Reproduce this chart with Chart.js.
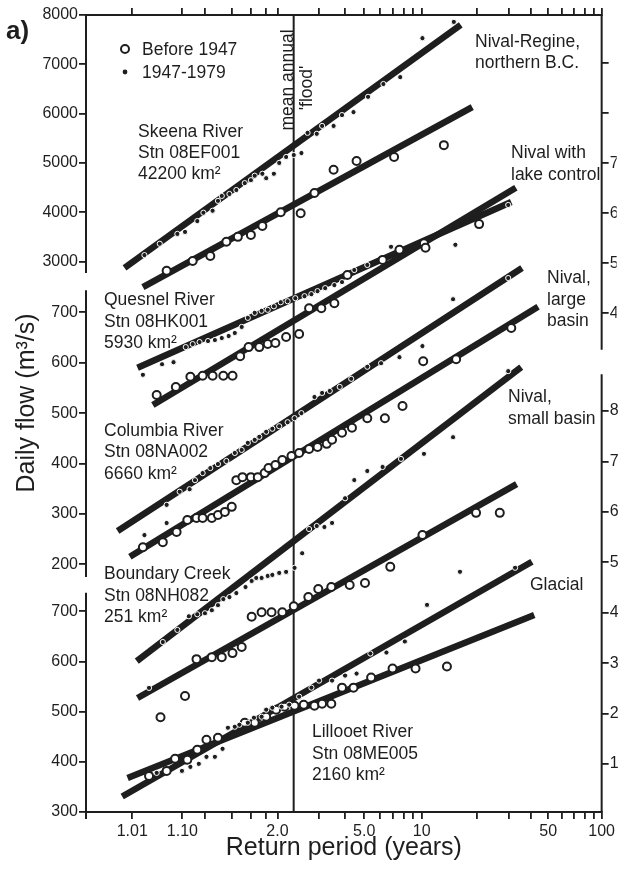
<!DOCTYPE html>
<html>
<head>
<meta charset="utf-8">
<style>
  html, body { margin: 0; padding: 0; background: #fff; }
</style>
<script src="https://cdn.jsdelivr.net/npm/chart.js@4/dist/chart.umd.min.js"></script>
</head>
<body>
<canvas id="floodChart" width="618" height="869"></canvas>
<script>
// x values are the Gumbel reduced variate, y values are daily flow (m3/s)
// "early" = before 1947 (open circles), "recent" = 1947-1979 (dots)

// Skeena River, Stn 08EF001
const skeenaEarly = [[-1.08,2810],[-0.74,3010],[-0.51,3110],[-0.30,3400],[-0.15,3500],[0.02,3540],[0.17,3720],[0.41,4000],[0.67,3980],[0.85,4390],[1.10,4860],[1.40,5040],[1.89,5120],[2.54,5360]];
const skeenaRecent = [[-1.37,3130],[-1.17,3360],[-0.94,3560],[-0.84,3600],[-0.68,3820],[-0.60,3990],[-0.48,4030],[-0.41,4230],[-0.36,4330],[-0.26,4370],[-0.17,4450],[-0.06,4590],[0.02,4650],[0.07,4740],[0.17,4780],[0.22,4690],[0.32,4780],[0.39,5000],[0.48,5120],[0.58,5160],[0.68,5200],[0.76,5610],[0.88,5590],[0.95,5750],[1.10,5750],[1.21,5970],[1.36,6030],[1.55,6340],[1.75,6600],[1.97,6740],[2.26,7530],[2.67,7860]];
const skeenaEarlyFit = [[-1.39,2480],[2.91,6130]];
const skeenaRecentFit = [[-1.63,2870],[2.76,7800]];

// Quesnel River, Stn 08HK001
const quesnelEarly = [[-1.21,536],[-0.96,552],[-0.77,572],[-0.61,574],[-0.48,574],[-0.34,574],[-0.22,574],[-0.12,613],[-0.01,631],[0.13,631],[0.24,637],[0.34,639],[0.48,651],[0.65,657],[0.78,708],[0.94,708],[1.11,718],[1.28,774],[1.74,804],[1.96,824],[2.28,837],[2.30,828],[3.00,875]];
const quesnelRecent = [[-1.39,576],[-1.14,597],[-0.99,601],[-0.83,631],[-0.74,637],[-0.65,641],[-0.54,643],[-0.45,645],[-0.36,649],[-0.27,653],[-0.19,659],[-0.10,671],[-0.02,689],[0.07,699],[0.16,703],[0.24,705],[0.32,712],[0.41,720],[0.50,722],[0.60,728],[0.72,732],[0.81,736],[0.89,742],[0.99,748],[1.11,754],[1.21,760],[1.37,784],[1.54,794],[1.85,830],[2.69,834],[3.38,913]];
const quesnelEarlyFit = [[-1.26,516],[3.48,947]];
const quesnelRecentFit = [[-1.46,590],[3.42,919]];

// Columbia River, Stn 08NA002
const columbiaEarly = [[-1.39,234],[-1.13,244],[-0.95,264],[-0.81,288],[-0.69,292],[-0.61,292],[-0.49,292],[-0.41,298],[-0.32,304],[-0.23,314],[-0.17,367],[-0.09,373],[0.02,373],[0.11,373],[0.20,381],[0.25,391],[0.34,397],[0.43,407],[0.55,415],[0.65,421],[0.78,429],[0.89,433],[1.01,439],[1.08,447],[1.21,461],[1.34,471],[1.54,490],[1.77,490],[2.00,514],[2.27,603],[2.70,607],[3.42,669]];
const columbiaRecent = [[-1.37,258],[-1.08,318],[-1.08,282],[-0.91,344],[-0.78,349],[-0.71,367],[-0.61,381],[-0.51,391],[-0.41,399],[-0.30,405],[-0.19,421],[-0.10,427],[-0.02,441],[0.07,447],[0.13,453],[0.22,463],[0.30,469],[0.39,474],[0.50,482],[0.59,490],[0.68,500],[0.85,532],[0.95,540],[1.05,544],[1.18,552],[1.33,568],[1.54,592],[1.72,599],[1.96,611],[2.26,633],[2.66,726],[3.38,768]];
const columbiaEarlyFit = [[-1.56,215],[3.77,711]];
const columbiaRecentFit = [[-1.72,266],[3.56,788]];

// Boundary Creek, Stn 08NH082
const boundaryEarly = [[-1.16,19.3],[-0.84,23.5],[-0.69,30.8],[-0.49,31.2],[-0.36,31.2],[-0.22,32.0],[-0.10,33.2],[0.03,39.2],[0.16,40.1],[0.29,40.1],[0.43,40.1],[0.58,41.3],[0.77,43.1],[0.90,44.7],[1.07,45.1],[1.31,45.5],[1.51,45.9],[1.84,49.1],[2.26,55.4],[2.96,59.8],[3.27,59.8]];
const boundaryRecent = [[-1.31,25.1],[-1.13,34.2],[-0.94,36.6],[-0.79,39.3],[-0.68,39.7],[-0.58,39.9],[-0.49,40.5],[-0.41,41.5],[-0.34,42.7],[-0.26,43.1],[-0.17,43.9],[-0.05,45.1],[0.03,46.3],[0.09,46.9],[0.16,46.9],[0.24,47.3],[0.30,47.5],[0.39,47.9],[0.48,48.1],[0.59,48.9],[0.69,51.8],[0.78,56.6],[0.88,57.2],[0.98,57.0],[1.08,57.8],[1.25,62.7],[1.37,66.3],[1.54,68.1],[1.74,68.9],[1.98,70.5],[2.28,71.5],[2.66,74.8],[3.38,87.9]];
const boundaryEarlyFit = [[-1.46,23.1],[3.49,65.5]];
const boundaryRecentFit = [[-1.47,30.4],[3.55,88.7]];

// Lillooet River, Stn 08ME005
const lillooetEarly = [[-1.31,372],[-1.08,382],[-0.97,406],[-0.81,404],[-0.68,424],[-0.56,444],[-0.41,448],[-0.06,478],[0.07,478],[0.22,490],[0.35,504],[0.46,510],[0.59,512],[0.71,514],[0.85,512],[0.95,516],[1.07,516],[1.21,548],[1.36,548],[1.59,568],[1.87,586],[2.17,586],[2.58,590]];
const lillooetRecent = [[-1.21,378],[-0.88,382],[-0.77,390],[-0.66,396],[-0.56,410],[-0.45,410],[-0.35,426],[-0.28,468],[-0.19,470],[-0.13,474],[-0.02,478],[0.06,488],[0.16,490],[0.22,504],[0.30,508],[0.42,510],[0.52,514],[0.65,530],[0.81,548],[0.91,562],[1.08,562],[1.25,572],[1.40,576],[1.58,616],[1.79,618],[2.03,640],[2.32,713],[2.75,779],[3.47,787]];
const lillooetEarlyFit = [[-1.59,368],[3.72,693]];
const lillooetRecentFit = [[-1.66,331],[3.69,799]];

// return period ticks (years) and the ones that get a label
const periodTicks = [1.01, 1.1, 1.2, 1.4, 1.6, 1.8, 2, 3, 4, 5, 6, 7, 8, 9, 10, 20, 30, 40, 50, 60, 70, 80, 90, 100];
const periodLabels = { 1.01: "1.01", 1.1: "1.10", 2: "2.0", 5: "5.0", 10: "10", 50: "50", 100: "100" };
const meanFloodPeriod = 2.33;

// flow axis ticks
const skeenaTicks = [3000, 4000, 5000, 6000, 7000, 8000];
const middleTicks = [200, 300, 400, 500, 600, 700];
const lowerTicks = [300, 400, 500, 600, 700];
const rightUpperTicks = [400, 500, 600, 700, 800, 900];
const rightLowerTicks = [10, 20, 30, 40, 50, 60, 70, 80];

const gumbel = T => -Math.log(-Math.log(1 - 1 / T));

const FONT = "'Liberation Sans', Arial, sans-serif";
const INK = "#1e1e1e";
Chart.defaults.font.family = FONT;

const rivers = [
  { axis: "yA", early: skeenaEarly, recent: skeenaRecent, earlyFit: skeenaEarlyFit, recentFit: skeenaRecentFit },
  { axis: "yB", early: quesnelEarly, recent: quesnelRecent, earlyFit: quesnelEarlyFit, recentFit: quesnelRecentFit },
  { axis: "yB", early: columbiaEarly, recent: columbiaRecent, earlyFit: columbiaEarlyFit, recentFit: columbiaRecentFit },
  { axis: "yR2", early: boundaryEarly, recent: boundaryRecent, earlyFit: boundaryEarlyFit, recentFit: boundaryRecentFit },
  { axis: "yC", early: lillooetEarly, recent: lillooetRecent, earlyFit: lillooetEarlyFit, recentFit: lillooetRecentFit },
];

const datasets = [];
rivers.forEach(r => {
  [r.earlyFit, r.recentFit].forEach(fit => {
    datasets.push({ data: fit, xAxisID: "x", yAxisID: r.axis, showLine: true, borderColor: INK,
      borderWidth: 6.5, pointRadius: 0, order: 3 });
  });
  datasets.push({ data: r.early, xAxisID: "x", yAxisID: r.axis, pointRadius: 4, pointBorderWidth: 2,
    pointBorderColor: INK, pointBackgroundColor: "#fff", order: 2 });
  datasets.push({ data: r.recent, xAxisID: "x", yAxisID: r.axis, pointRadius: 2.6, pointBorderWidth: 1,
    pointBorderColor: "#fff", pointBackgroundColor: INK, order: 1 });
});

// pieces of the broken flow axes, in axis units
const axisSegments = [
  { axis: "yA", from: 2768, to: 8000 },
  { axis: "yB", from: 175, to: 744 },
  { axis: "yC", from: 286, to: 737 },
  { axis: "yR1", from: 327, to: 997 },
  { axis: "yR2", from: 0.5, to: 87.3 },
];

const notes = [
  ["Skeena River", 138, 137], ["Stn 08EF001", 138, 158], ["42200 km\u00b2", 138, 179],
  ["Nival-Regine,", 475, 47], ["northern B.C.", 475, 68],
  ["Nival with", 511, 158], ["lake control", 511, 180],
  ["Nival,", 547, 283], ["large", 547, 305], ["basin", 547, 326],
  ["Quesnel River", 104, 305], ["Stn 08HK001", 104, 327], ["5930 km\u00b2", 104, 348],
  ["Columbia River", 104, 436], ["Stn 08NA002", 104, 457], ["6660 km\u00b2", 104, 479],
  ["Nival,", 508, 402], ["small basin", 508, 424],
  ["Boundary Creek", 104, 579], ["Stn 08NH082", 104, 601], ["251 km\u00b2", 104, 622],
  ["Glacial", 530, 590],
  ["Lillooet River", 312, 737], ["Stn 08ME005", 312, 759], ["2160 km\u00b2", 312, 780],
];

const overlay = {
  id: "overlay",
  afterLayout(chart) {
    // the extra flow axes take no room, but their labels need room to show
    ["yB", "yC"].forEach(id => {
      const s = chart.scales[id];
      s.left = 0;
      s.width = s.right;
    });
    const r = chart.scales.yR2;
    r.right = chart.width;
    r.width = r.right - r.left;
  },
  beforeDatasetsDraw(chart) {
    const { ctx, chartArea, scales } = chart;
    ctx.save();
    ctx.strokeStyle = INK;
    ctx.lineWidth = 2;
    axisSegments.forEach(seg => {
      const s = scales[seg.axis];
      const x = s.position === "left" ? chartArea.left : chartArea.right;
      ctx.beginPath();
      ctx.moveTo(x, s.getPixelForValue(seg.from));
      ctx.lineTo(x, s.getPixelForValue(seg.to));
      ctx.stroke();
    });
    // mean annual flood
    const fx = scales.x.getPixelForValue(gumbel(meanFloodPeriod));
    ctx.beginPath();
    ctx.moveTo(fx, chartArea.top);
    ctx.lineTo(fx, chartArea.bottom);
    ctx.stroke();
    ctx.restore();
  },
  afterDatasetsDraw(chart) {
    const { ctx } = chart;
    ctx.save();
    ctx.fillStyle = INK;
    ctx.textAlign = "left";
    ctx.textBaseline = "alphabetic";
    ctx.font = "17.5px " + FONT;
    notes.forEach(([t, x, y]) => ctx.fillText(t, x, y));

    // legend
    ctx.fillText("Before 1947", 142, 55);
    ctx.fillText("1947-1979", 142, 78);
    ctx.beginPath();
    ctx.arc(125, 49, 4, 0, Math.PI * 2);
    ctx.fillStyle = "#fff";
    ctx.fill();
    ctx.lineWidth = 2;
    ctx.strokeStyle = INK;
    ctx.stroke();
    ctx.beginPath();
    ctx.arc(125, 72, 2.4, 0, Math.PI * 2);
    ctx.fillStyle = INK;
    ctx.fill();

    // rotated texts
    ctx.textAlign = "center";
    ctx.save();
    ctx.translate(293, 80);
    ctx.rotate(-Math.PI / 2);
    ctx.fillText("mean annual", 0, 0);
    ctx.restore();
    ctx.save();
    ctx.translate(312, 88);
    ctx.rotate(-Math.PI / 2);
    ctx.fillText("'flood'", 0, 0);
    ctx.restore();
    ctx.save();
    ctx.translate(27, 403);
    ctx.rotate(-Math.PI / 2);
    ctx.textBaseline = "middle";
    ctx.font = "25px " + FONT;
    ctx.fillText("Daily flow (m\u00b3/s)", 0, 0);
    ctx.restore();

    ctx.textAlign = "left";
    ctx.font = "bold 26px " + FONT;
    ctx.fillText("a)", 6, 39);
    ctx.restore();
  },
};

const tickGrid = { drawOnChartArea: false, drawTicks: true, tickLength: 7, color: INK, lineWidth: 1.8 };

function flowAxis(position, weight, width, min, max, ticks, label) {
  return {
    type: "linear", position, weight, min, max,
    afterFit: s => { s.width = width; },
    afterBuildTicks: s => { s.ticks = ticks.map(v => ({ value: v })); },
    border: { display: false },
    grid: tickGrid,
    ticks: { autoSkip: false, padding: 1, color: INK, font: { size: 16 }, callback: label || (v => String(v)) },
  };
}

const xMin = -2.133;
const xMax = gumbel(100);

const config = {
  type: "scatter",
  data: { datasets },
  options: {
    responsive: false,
    animation: false,
    events: [],
    layout: { padding: 0 },
    plugins: { legend: { display: false }, tooltip: { enabled: false } },
    scales: {
      x: {
        type: "linear", position: "bottom", min: xMin, max: xMax,
        afterFit: s => { s.height = 57; },
        afterBuildTicks: s => { s.ticks = periodTicks.map(T => ({ value: gumbel(T) })); },
        border: { display: true, color: INK, width: 2 },
        grid: tickGrid,
        ticks: { autoSkip: false, maxRotation: 0, padding: 3, color: INK, font: { size: 16 },
          callback: (v, i) => periodLabels[periodTicks[i]] || "" },
        title: { display: true, text: "Return period (years)", color: INK, font: { size: 25 },
          padding: { top: 0, bottom: 6 } },
      },
      x2: {
        type: "linear", position: "top", min: xMin, max: xMax,
        afterFit: s => { s.height = 15; },
        afterBuildTicks: s => { s.ticks = periodTicks.map(T => ({ value: gumbel(T) })); },
        border: { display: true, color: INK, width: 2 },
        grid: tickGrid,
        ticks: { display: false },
      },
      yA: flowAxis("left", 2, 86, -8166, 8000, skeenaTicks),
      yB: flowAxis("left", 1, 0, -291.4, 1289.9, middleTicks),
      yC: flowAxis("left", 0, 0, 300, 1889.2, lowerTicks),
      yR1: flowAxis("right", 2, 15, -597.4, 996.6, rightUpperTicks, v => (v <= 700 ? String(v) : "")),
      yR2: flowAxis("right", 0, 0, 0.5, 158.5, rightLowerTicks),
    },
  },
  plugins: [overlay],
};

const floodChart = new Chart(document.getElementById("floodChart"), config);
</script>
</body>
</html>
